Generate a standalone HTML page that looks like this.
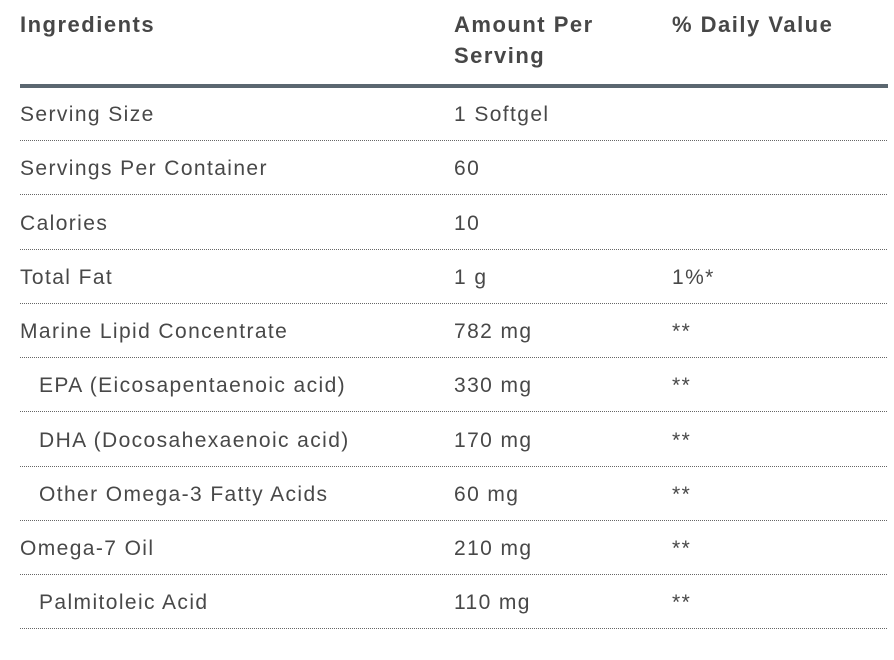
<!DOCTYPE html>
<html>
<head>
<meta charset="utf-8">
<style>
  html,body{margin:0;padding:0;background:#fff;}
  body{width:894px;height:660px;position:relative;overflow:hidden;font-family:"Liberation Sans",Arial,sans-serif;}
  .h{position:absolute;font-weight:bold;font-size:22px;line-height:31px;letter-spacing:1.5px;color:#474747;top:9px;white-space:nowrap;}
  .t{position:absolute;font-size:21px;line-height:24px;letter-spacing:1.4px;color:#484848;white-space:nowrap;}
  .line{position:absolute;left:20px;width:868px;height:1px;background-image:linear-gradient(to right,#666 50%,rgba(255,255,255,0) 50%);background-size:2px 1px;background-repeat:repeat-x;}
  .thick{position:absolute;left:20px;width:868px;top:84px;height:4px;background:#5b6770;}
</style>
</head>
<body>
<div class="h" style="left:20px;">Ingredients</div>
<div class="h" style="left:454px;">Amount Per<br>Serving</div>
<div class="h" style="left:672px;">% Daily Value</div>
<div class="thick"></div>

<div class="t" style="left:20px;top:103px;">Serving Size</div>
<div class="t" style="left:454px;top:103px;">1 Softgel</div>
<div class="line" style="top:140px;"></div>

<div class="t" style="left:20px;top:157px;">Servings Per Container</div>
<div class="t" style="left:454px;top:157px;">60</div>
<div class="line" style="top:194px;"></div>

<div class="t" style="left:20px;top:212px;">Calories</div>
<div class="t" style="left:454px;top:212px;">10</div>
<div class="line" style="top:249px;"></div>

<div class="t" style="left:20px;top:266px;">Total Fat</div>
<div class="t" style="left:454px;top:266px;">1 g</div>
<div class="t" style="left:672px;top:266px;">1%*</div>
<div class="line" style="top:303px;"></div>

<div class="t" style="left:20px;top:320px;">Marine Lipid Concentrate</div>
<div class="t" style="left:454px;top:320px;">782 mg</div>
<div class="t" style="left:672px;top:320px;">**</div>
<div class="line" style="top:357px;"></div>

<div class="t" style="left:39px;top:374px;">EPA (Eicosapentaenoic acid)</div>
<div class="t" style="left:454px;top:374px;">330 mg</div>
<div class="t" style="left:672px;top:374px;">**</div>
<div class="line" style="top:411px;"></div>

<div class="t" style="left:39px;top:429px;">DHA (Docosahexaenoic acid)</div>
<div class="t" style="left:454px;top:429px;">170 mg</div>
<div class="t" style="left:672px;top:429px;">**</div>
<div class="line" style="top:466px;"></div>

<div class="t" style="left:39px;top:483px;">Other Omega-3 Fatty Acids</div>
<div class="t" style="left:454px;top:483px;">60 mg</div>
<div class="t" style="left:672px;top:483px;">**</div>
<div class="line" style="top:520px;"></div>

<div class="t" style="left:20px;top:537px;">Omega-7 Oil</div>
<div class="t" style="left:454px;top:537px;">210 mg</div>
<div class="t" style="left:672px;top:537px;">**</div>
<div class="line" style="top:574px;"></div>

<div class="t" style="left:39px;top:591px;">Palmitoleic Acid</div>
<div class="t" style="left:454px;top:591px;">110 mg</div>
<div class="t" style="left:672px;top:591px;">**</div>
<div class="line" style="top:628px;"></div>
</body>
</html>
